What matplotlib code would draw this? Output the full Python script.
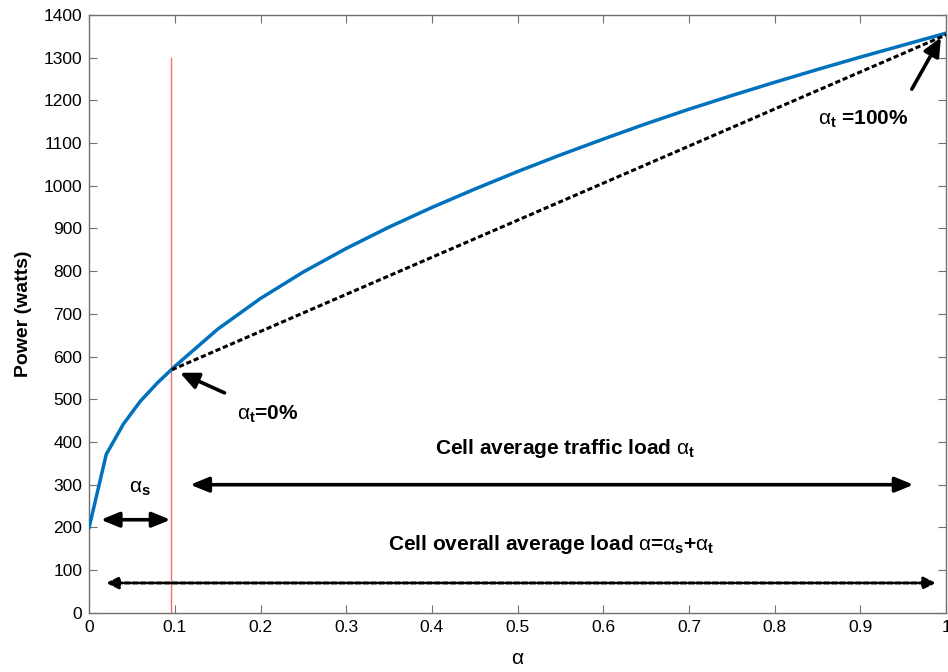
# Base-station power vs. cell load, with traffic-load annotations
import numpy as np
import matplotlib.pyplot as plt

plt.rcParams['font.family'] = ['Liberation Sans', 'DejaVu Sans']
plt.rcParams['mathtext.fontset'] = 'custom'
plt.rcParams['mathtext.rm'] = 'Liberation Sans:bold'
plt.rcParams['mathtext.it'] = 'Liberation Sans'
plt.rcParams['mathtext.bf'] = 'Liberation Sans:bold'

# power curve
alpha = [0, 0.02, 0.04, 0.06, 0.08, 0.1, 0.15, 0.2, 0.25, 0.3, 0.35, 0.4,
         0.45, 0.5, 0.55, 0.6, 0.65, 0.7, 0.75, 0.8, 0.85, 0.9, 0.95, 1.0]
power = [200, 371, 442, 496, 539, 577, 664, 736, 798, 853, 903, 949,
         992, 1033, 1072, 1109, 1145, 1179, 1211, 1242, 1272, 1301, 1329, 1357]

# sleep-state load and the linear traffic segment
alpha_s = 0.095
red_top = 1300
lin_x = [0.0965, 1.0]
lin_y = [569, 1353]

fig = plt.figure(figsize=(9.48, 6.72), dpi=100)
ax = fig.add_axes([0.094, 0.088, 0.904, 0.89])

dots = (0, (1.7, 0.9))
ax.plot(alpha, power, color='#0072BD', lw=2.5, zorder=3)
ax.plot(lin_x, lin_y, color='black', lw=2.2, ls=dots, zorder=3)
ax.plot([alpha_s, alpha_s], [0, red_top], color='#f26d6d', lw=1.0, zorder=2)

ax.set_xlim(0, 1)
ax.set_ylim(0, 1400)
ax.set_xticks(np.arange(0, 1.01, 0.1))
ax.set_xticklabels(['0', '0.1', '0.2', '0.3', '0.4', '0.5', '0.6', '0.7', '0.8', '0.9', '1'])
ax.set_yticks(np.arange(0, 1401, 100))
ax.tick_params(direction='in', top=True, right=True, labelsize=12.5,
               length=6, color='#707070', pad=5)
for s in ax.spines.values():
    s.set_color('#707070')
    s.set_linewidth(1.0)

ax.set_ylabel('Power (watts)', fontsize=14, fontweight='bold', labelpad=8)
ax.set_xlabel(r'$\mathit{\alpha}$', fontsize=15, labelpad=10)

solid = dict(arrowstyle='<|-|>,head_length=1.1,head_width=0.45', color='black', lw=2.6,
             shrinkA=0, shrinkB=0)
ax.annotate('', xy=(0.0136, 218), xytext=(alpha_s, 218), arrowprops=solid)
ax.annotate('', xy=(0.118, 300), xytext=(0.962, 300), arrowprops=solid)

dotted = dict(arrowstyle='<|-|>,head_length=0.7,head_width=0.35', color='black', lw=2.2,
              ls=dots, shrinkA=0, shrinkB=0)
ax.annotate('', xy=(0.02, 70), xytext=(0.988, 70), arrowprops=dotted)

single = dict(arrowstyle='-|>,head_length=1.1,head_width=0.5', color='black', lw=2.6,
              shrinkA=0, shrinkB=0)
ax.annotate('', xy=(0.106, 562), xytext=(0.158, 515), arrowprops=single)
ax.annotate('', xy=(0.994, 1347), xytext=(0.960, 1226), arrowprops=single)

txt = dict(fontsize=15, fontweight='bold', va='center', ha='left')
ax.text(0.047, 290, r'$\mathit{\alpha}_{\mathrm{s}}$', **txt)
ax.text(0.173, 465, r'$\mathit{\alpha}_{\mathrm{t}}$=0%', **txt)
ax.text(0.850, 1155, r'$\mathit{\alpha}_{\mathrm{t}}$ =100%', **txt)
ax.text(0.404, 385, r'Cell average traffic load $\mathit{\alpha}_{\mathrm{t}}$', **txt)
ax.text(0.349, 160, r'Cell overall average load $\mathit{\alpha}$=$\mathit{\alpha}_{\mathrm{s}}$+$\mathit{\alpha}_{\mathrm{t}}$', **txt)

fig.savefig('out.png', dpi=100)
